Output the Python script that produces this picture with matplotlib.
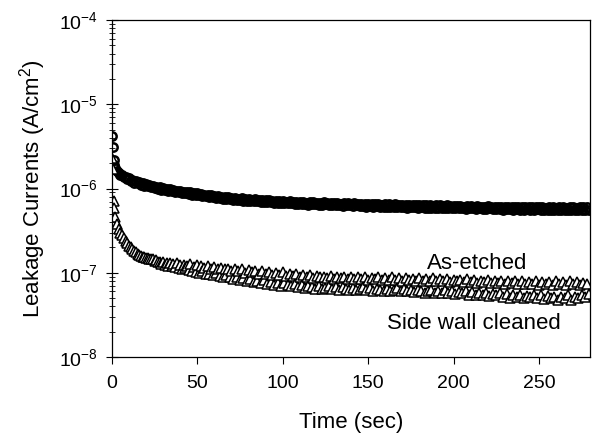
import numpy as np
import matplotlib
matplotlib.use("Agg")
import matplotlib.pyplot as plt
from matplotlib.ticker import LogLocator, NullFormatter

plt.rcParams['font.family'] = ['Liberation Sans', 'DejaVu Sans']
plt.rcParams['mathtext.default'] = 'regular'

# sampling times (sec): a few early points, then every second
t_early = [0, 0.5, 1, 1.5, 2, 3]
time = np.concatenate([t_early, np.arange(4, 280)])

# leakage currents, in units of 1e-7 A/cm^2
as_etched = [
    42, 31, 22, 19, 17.5, 16,
    15.5, 14.4, 14.6, 13.6, 13.9, 13.0, 13.2, 12.3, 12.6, 11.8, 12.2, 11.5, 11.9, 11.1, 11.5, 10.8, 11.2, 10.6, 10.9, 10.3,
    10.7, 10.1, 10.5, 9.9, 10.3, 9.7, 10.1, 9.6, 9.9, 9.4, 9.8, 9.3, 9.6, 9.1, 9.4, 9.0, 9.4, 8.9, 9.2, 8.8,
    9.1, 8.7, 9.0, 8.5, 8.8, 8.4, 8.8, 8.3, 8.6, 8.2, 8.5, 8.1, 8.5, 8.0, 8.3, 7.9, 8.2, 7.8, 8.2, 7.7,
    8.0, 7.6, 8.0, 7.6, 7.9, 7.5, 7.8, 7.4, 7.8, 7.3, 7.6, 7.3, 7.7, 7.2, 7.5, 7.1, 7.5, 7.1, 7.4, 7.1,
    7.5, 7.1, 7.4, 7.0, 7.4, 7.0, 7.3, 6.9, 7.3, 6.9, 7.2, 6.8, 7.1, 6.8, 7.2, 6.8, 7.1, 6.7, 7.0, 6.7,
    7.1, 6.7, 7.0, 6.6, 7.0, 6.6, 6.9, 6.5, 6.9, 6.5, 6.8, 6.4, 6.9, 6.5, 6.9, 6.5, 6.8, 6.4, 6.8, 6.4,
    6.9, 6.5, 6.7, 6.3, 6.8, 6.4, 6.7, 6.3, 6.8, 6.3, 6.6, 6.2, 6.7, 6.3, 6.7, 6.3, 6.6, 6.2, 6.7, 6.3,
    6.6, 6.2, 6.6, 6.2, 6.5, 6.1, 6.6, 6.2, 6.5, 6.1, 6.6, 6.2, 6.5, 6.1, 6.4, 6.0, 6.5, 6.1, 6.5, 6.1,
    6.4, 6.0, 6.5, 6.1, 6.4, 6.0, 6.4, 6.0, 6.3, 5.9, 6.4, 6.0, 6.4, 6.0, 6.3, 5.9, 6.4, 6.0, 6.3, 5.9,
    6.3, 5.9, 6.3, 5.9, 6.2, 5.8, 6.3, 5.9, 6.3, 5.9, 6.2, 5.8, 6.3, 5.9, 6.2, 5.8, 6.2, 5.8, 6.2, 5.8,
    6.2, 5.8, 6.1, 5.7, 6.2, 5.8, 6.2, 5.8, 6.1, 5.7, 6.2, 5.8, 6.1, 5.7, 6.1, 5.7, 6.2, 5.8, 6.1, 5.7,
    6.1, 5.7, 6.1, 5.7, 6.0, 5.6, 6.1, 5.7, 6.1, 5.7, 6.0, 5.6, 6.1, 5.7, 6.0, 5.6, 6.0, 5.6, 6.1, 5.7,
    6.0, 5.6, 6.0, 5.6, 6.1, 5.7, 6.0, 5.6, 6.0, 5.6, 5.9, 5.5, 6.0, 5.6, 6.0, 5.6, 5.9, 5.5, 6.0, 5.6,
    6.0, 5.6, 5.9, 5.5, 6.0, 5.6, 6.0, 5.6, 5.9, 5.5, 6.0, 5.6, 6.0, 5.6, 6.0, 5.6,
]

side_wall = [
    23, 17, 7.2, 5.8, 4.6, 3.8,
    3.3, 3.0, 2.8, 2.6, 2.4, 2.25, 2.1, 2.0, 1.9, 1.82, 1.75, 1.68, 1.62, 1.58, 1.55, 1.52, 1.5, 1.48, 1.46, 1.44,
    1.45, 1.38, 1.40, 1.33, 1.36, 1.28, 1.34, 1.25, 1.30, 1.22, 1.30, 1.20, 1.27, 1.18, 1.30, 1.15, 1.24, 1.12, 1.25, 1.14,
    1.22, 1.08, 1.26, 1.05, 1.18, 1.02, 1.24, 1.00, 1.20, 1.06, 1.15, 0.98, 1.22, 0.96, 1.12, 0.95, 1.18, 1.00, 1.10, 0.92,
    1.15, 0.90, 1.10, 0.95, 1.12, 0.88, 1.06, 0.85, 1.12, 0.90, 1.04, 0.82, 1.10, 0.86, 1.00, 0.80, 1.08, 0.84, 1.02, 0.78,
    1.06, 0.80, 0.98, 0.76, 1.04, 0.82, 0.96, 0.74, 1.02, 0.78, 0.95, 0.72, 1.00, 0.76, 0.94, 0.70, 1.02, 0.75, 0.92, 0.72,
    0.98, 0.70, 0.92, 0.74, 0.96, 0.68, 0.90, 0.72, 0.95, 0.66, 0.88, 0.70, 0.94, 0.68, 0.86, 0.65, 0.92, 0.70, 0.88, 0.64,
    0.90, 0.66, 0.86, 0.70, 0.92, 0.64, 0.85, 0.68, 0.90, 0.63, 0.86, 0.67, 0.88, 0.64, 0.84, 0.62, 0.90, 0.66, 0.85, 0.63,
    0.88, 0.64, 0.84, 0.68, 0.90, 0.62, 0.83, 0.66, 0.87, 0.61, 0.84, 0.65, 0.88, 0.62, 0.82, 0.60, 0.86, 0.64, 0.83, 0.61,
    0.88, 0.62, 0.82, 0.66, 0.86, 0.60, 0.80, 0.64, 0.87, 0.60, 0.82, 0.63, 0.85, 0.59, 0.80, 0.62, 0.86, 0.60, 0.81, 0.58,
    0.84, 0.60, 0.80, 0.63, 0.86, 0.58, 0.79, 0.61, 0.84, 0.57, 0.80, 0.62, 0.85, 0.58, 0.78, 0.60, 0.83, 0.56, 0.79, 0.59,
    0.82, 0.57, 0.78, 0.60, 0.84, 0.55, 0.77, 0.59, 0.82, 0.55, 0.76, 0.58, 0.81, 0.54, 0.77, 0.57, 0.82, 0.53, 0.76, 0.56,
    0.80, 0.54, 0.75, 0.57, 0.81, 0.52, 0.74, 0.56, 0.80, 0.50, 0.75, 0.55, 0.79, 0.51, 0.73, 0.54, 0.80, 0.50, 0.74, 0.53,
    0.78, 0.52, 0.74, 0.55, 0.80, 0.50, 0.72, 0.54, 0.78, 0.49, 0.73, 0.53, 0.77, 0.50, 0.72, 0.52, 0.79, 0.48, 0.73, 0.51,
    0.77, 0.50, 0.72, 0.54, 0.79, 0.48, 0.74, 0.52, 0.78, 0.50, 0.72, 0.55, 0.76, 0.52, 0.74, 0.56,
]

x_ticks = [0, 50, 100, 150, 200, 250]

fig = plt.figure(figsize=(5.92, 4.37), dpi=100)
ax = fig.add_axes([0.189, 0.183, 0.808, 0.771])

ax.plot(time, np.array(as_etched) * 1e-7, linestyle='none', marker='o',
        ms=6, mfc='none', mec='black', mew=1.8)
ax.plot(time, np.array(side_wall) * 1e-7, linestyle='none', marker='^',
        ms=7, mfc='white', mec='black', mew=1.1)

ax.set_yscale('log')
ax.set_ylim(1e-8, 1e-4)
ax.set_xlim(0, 280)
ax.set_xticks(x_ticks)
ax.yaxis.set_minor_locator(LogLocator(base=10, subs=np.arange(2, 10)))
ax.yaxis.set_minor_formatter(NullFormatter())

ax.tick_params(axis='x', direction='out', length=5, width=0.8, labelsize=14, pad=8)
ax.tick_params(axis='y', which='major', direction='inout', length=8, width=0.8,
               labelsize=14, pad=6)
ax.tick_params(axis='y', which='minor', direction='inout', length=4, width=0.6)

for s in ax.spines.values():
    s.set_linewidth(0.9)

ax.set_xlabel('Time (sec)', fontsize=16, labelpad=14)
ax.set_ylabel('Leakage Currents (A/cm$^2$)', fontsize=16, labelpad=8)

ax.text(214, 1.28e-7, 'As-etched', fontsize=16, ha='center', va='center')
ax.text(212, 2.47e-8, 'Side wall cleaned', fontsize=16, ha='center', va='center')

fig.savefig('out.png', dpi=100)
